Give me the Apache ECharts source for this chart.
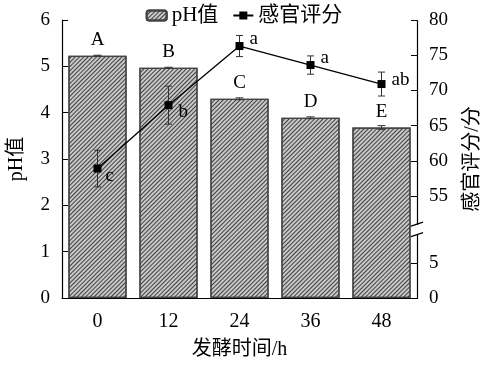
<!DOCTYPE html>
<html><head><meta charset="utf-8">
<script src="https://cdn.jsdelivr.net/npm/echarts@6/dist/echarts.min.js"></script>
<style>html,body{margin:0;padding:0;background:#fff}#c{width:488px;height:366px}</style>
</head><body><div id="c"></div>
<script>
const categories = ['0', '12', '24', '36', '48'];
const phValues = [5.23, 4.97, 4.30, 3.89, 3.68];
const phErrors = [0.01, 0.01, 0.02, 0.02, 0.04];
const phLetters = ['A', 'B', 'C', 'D', 'E'];
const sensoryValues = [58.9, 67.9, 76.3, 73.6, 70.9];
const sensoryErrors = [2.6, 2.7, 1.5, 1.3, 1.7];
const sensoryLetters = ['c', 'b', 'a', 'a', 'ab'];
const rightTickLabels = [0, 5, 55, 60, 65, 70, 75, 80];
const rightBreak = { start: 9, end: 51, gap: 1.5 };

const FONT = '"Liberation Serif", "Times New Roman", "Noto Sans CJK SC", serif';
const chart = echarts.init(document.getElementById('c'), null, { renderer: 'canvas' });

const letterOffsets = [[0, 8], [2, 7], [2, -7], [2, -7], [2, -4]];
const GRID = { left: 62, right: 71, top: 20, bottom: 68 };

function errRender(capW) {
  return function (params, api) {
    const i = api.value(0);
    const v = api.value(1), e = api.value(2);
    const top = api.coord([i, v + e]);
    const bot = api.coord([i, v - e]);
    const st = { stroke: '#333', lineWidth: 1 };
    return {
      type: 'group',
      children: [
        { type: 'line', shape: { x1: top[0], y1: top[1], x2: bot[0], y2: bot[1] }, style: st },
        { type: 'line', shape: { x1: top[0] - capW, y1: top[1], x2: top[0] + capW, y2: top[1] }, style: st },
        { type: 'line', shape: { x1: bot[0] - capW, y1: bot[1], x2: bot[0] + capW, y2: bot[1] }, style: st }
      ]
    };
  };
}

const option = {
  animation: false,
  backgroundColor: '#fff',
  textStyle: { fontFamily: FONT, color: '#000' },
  grid: { left: GRID.left, right: GRID.right, top: GRID.top, bottom: GRID.bottom, containLabel: false, outerBoundsMode: 'none' },
  legend: {
    top: 0, left: 'center',
    itemGap: 14,
    itemWidth: 20, itemHeight: 10,
    textStyle: { fontFamily: FONT, fontSize: 21, color: '#000' },
    data: [
      { name: 'pH值' },
      { name: '感官评分' }
    ]
  },
  xAxis: {
    type: 'category',
    data: categories,
    name: '发酵时间/h',
    nameLocation: 'middle',
    nameGap: 42,
    nameTextStyle: { fontFamily: FONT, fontSize: 20, color: '#000' },
    axisLine: { lineStyle: { color: '#000', width: 1.2 } },
    axisTick: { show: false },
    axisLabel: { fontFamily: FONT, fontSize: 20, color: '#000', margin: 14 }
  },
  yAxis: [
    {
      type: 'value', min: 0, max: 6, interval: 1,
      name: 'pH值', nameLocation: 'middle', nameGap: 35, nameRotate: 90,
      nameTextStyle: { fontFamily: FONT, fontSize: 20, color: '#000' },
      axisLine: { show: true, lineStyle: { color: '#000', width: 1.2 } },
      axisTick: { show: true, inside: true, length: 6, lineStyle: { color: '#000' } },
      axisLabel: { fontFamily: FONT, fontSize: 19, color: '#000', margin: 12 },
      splitLine: { show: false }
    },
    {
      type: 'value', min: 0, max: 80, interval: 5,
      breaks: [rightBreak],
      breakArea: { show: false },
      name: '感官评分/分', nameLocation: 'middle', nameGap: 46, nameRotate: 90,
      nameTextStyle: { fontFamily: FONT, fontSize: 20, color: '#000' },
      axisLine: { show: true, lineStyle: { color: '#000', width: 1.2 } },
      axisTick: { show: true, inside: true, length: 6, lineStyle: { color: '#000' }, customValues: rightTickLabels },
      axisLabel: {
        fontFamily: FONT, fontSize: 19, color: '#000', margin: 12,
        customValues: rightTickLabels
      },
      splitLine: { show: false }
    }
  ],
  series: [
    {
      name: 'pH值', type: 'bar', yAxisIndex: 0,
      barCategoryGap: '18%',
      data: phValues,
      itemStyle: {
        color: '#c8c8c8', borderColor: '#444', borderWidth: 1.2,
        decal: {
          symbol: 'rect', symbolSize: 1,
          color: 'rgba(30,30,30,0.8)',
          dashArrayX: [1, 0], dashArrayY: [1, 2],
          rotation: -Math.PI / 4
        }
      },
      label: {
        show: true, position: 'top', distance: 6,
        fontFamily: FONT, fontSize: 19, color: '#000',
        formatter: function (p) { return phLetters[p.dataIndex]; }
      },
      z: 1
    },
    {
      name: 'pHerr', type: 'custom', yAxisIndex: 0,
      data: phValues.map((v, i) => [i, v, phErrors[i]]),
      renderItem: errRender(4),
      z: 3, silent: true
    },
    {
      name: '感官评分', type: 'line', yAxisIndex: 1,
      data: sensoryValues.map((v, i) => ({
        value: v,
        label: { offset: letterOffsets[i] }
      })),
      symbol: 'rect', symbolSize: 8,
      itemStyle: { color: '#000' },
      lineStyle: { color: '#000', width: 1.3 },
      label: {
        show: true, position: 'right', distance: 4,
        fontFamily: FONT, fontSize: 19, color: '#000',
        formatter: function (p) { return sensoryLetters[p.dataIndex]; }
      },
      z: 5
    },
    {
      name: 'senErr', type: 'custom', yAxisIndex: 1,
      data: sensoryValues.map((v, i) => [i, v, sensoryErrors[i]]),
      renderItem: errRender(3.5),
      z: 4, silent: true
    }
  ]
};
chart.setOption(option);

// break marks on the right axis
const yA = chart.convertToPixel({ yAxisIndex: 1 }, rightBreak.start);
const yB = chart.convertToPixel({ yAxisIndex: 1 }, rightBreak.end);
const xR = chart.getWidth() - GRID.right;
chart.setOption({
  graphic: [
    { type: 'line', shape: { x1: xR - 6, y1: yA + 2, x2: xR + 6, y2: yA - 2 }, style: { stroke: '#000', lineWidth: 1.2 }, z: 101 },
    { type: 'line', shape: { x1: xR - 6, y1: yB + 2, x2: xR + 6, y2: yB - 2 }, style: { stroke: '#000', lineWidth: 1.2 }, z: 101 }
  ]
});
</script>
</body></html>
